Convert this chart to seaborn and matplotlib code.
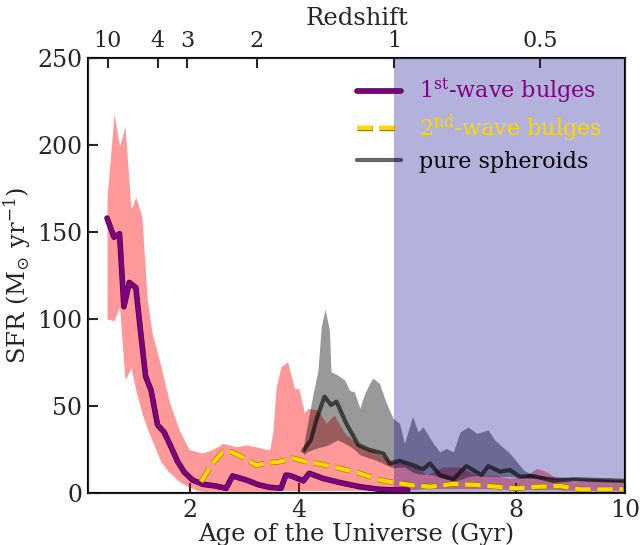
import numpy as np
import pandas as pd
import matplotlib
matplotlib.use("Agg")
import matplotlib.pyplot as plt
import matplotlib.patheffects as pe
import seaborn as sns

# 1st-wave bulges: median SFR and band
age1 = [0.47, 0.60, 0.70, 0.78, 0.88, 1.00, 1.09, 1.18, 1.28, 1.40, 1.52, 1.64, 1.77, 1.89, 2.04, 2.23,
        2.47, 2.66, 2.78, 3.03, 3.27, 3.46, 3.67, 3.76, 3.84, 3.92, 4.08, 4.19, 4.44, 4.75, 5.12, 5.48,
        5.85, 6.00]
sfr1 = [158, 147, 149, 107, 121, 118, 92, 67, 59, 39, 35, 27, 18, 12, 7.5, 5,
        4, 2.7, 9.8, 7.5, 4.6, 3.3, 2.7, 10.3, 10, 9, 7, 11.3, 8.4, 6, 3.6, 2.1,
        1.7, 1.7]
band1_age = [0.47, 0.60, 0.70, 0.80, 0.91, 1.00, 1.11, 1.21, 1.30, 1.46, 1.61, 1.80, 1.98, 2.10]
band1_hi = [170, 218, 199, 211, 163, 170, 159, 111, 92, 73, 53, 36, 25, 24]
band1_lo = [100, 99, 107, 65, 72, 59, 46, 37, 30, 18, 12, 6.5, 3.4, 2]

# 2nd-wave bulges
age2 = [2.20, 2.41, 2.60, 2.75, 3.00, 3.21, 3.46, 3.64, 3.89, 4.01, 4.13, 4.38, 4.75, 5.12, 5.48, 5.67,
        6.04, 6.41, 6.84, 7.27, 7.64, 8.00, 8.37, 8.80, 9.17, 9.96]
sfr2 = [6.5, 17, 23.7, 23.7, 20, 16, 17.4, 18, 20, 19, 18, 16.7, 14.2, 11.3, 7.5, 6.5,
        4.6, 3.6, 5.2, 4.6, 3.6, 2.7, 3.6, 4, 2.1, 2.1]
band2_age = [2.10, 2.23, 2.41, 2.60, 2.84, 3.03, 3.21, 3.46, 3.52, 3.58, 3.67, 3.79, 3.92, 4.00, 4.10,
             4.16, 4.35, 4.50, 4.65, 4.84, 5.15, 5.45, 5.70, 5.94, 6.13, 6.35, 6.65, 6.96, 7.27, 7.57,
             7.88, 8.19, 8.37, 8.55, 8.74, 9.05, 9.54, 10.0]
band2_hi = [24, 23, 25, 28.5, 26.6, 27.6, 26.6, 24.7, 35, 61, 72.6, 75.5, 60, 60, 46,
            48.7, 47.7, 40, 44.8, 34.3, 26.6, 22.8, 18, 17, 15, 10.3, 15, 15, 10.3, 10.3,
            8.4, 10.3, 14.2, 12.3, 8.4, 6.5, 7.5, 7.5]
band2_lo = [1.5, 1, 1, 1, 1, 1, 1, 1, 1, 1, 1.5, 1.5, 1.5, 1.5, 1.5,
            1.5, 1.5, 1.5, 1.5, 1.5, 1.5, 1.5, 1.5, 2, 2, 2.5, 2.5, 2.5, 2.5, 2.5,
            2, 2, 2, 2, 2, 1.5, 1.5, 1.5]

# pure spheroids
age3 = [4.08, 4.22, 4.32, 4.47, 4.59, 4.69, 4.87, 5.09, 5.30, 5.55, 5.67, 5.85, 6.10, 6.28, 6.41, 6.59,
        6.84, 7.08, 7.36, 7.48, 7.70, 7.88, 8.06, 8.31, 8.68, 9.05, 9.97]
sfr3 = [24.3, 30.5, 42, 55.4, 50.6, 52.5, 40, 27.6, 24.7, 22.8, 17, 18.5, 16, 13.6, 17, 10.3,
        7.9, 15.5, 10.3, 15.5, 12.3, 13.2, 9.4, 9.8, 7, 7.9, 7]
band3_age = [4.08, 4.17, 4.26, 4.35, 4.41, 4.48, 4.56, 4.59, 4.71, 4.84, 4.93, 5.02, 5.12, 5.21, 5.30,
             5.36, 5.48, 5.61, 5.73, 5.85, 5.94, 6.09, 6.19, 6.28, 6.47, 6.59, 6.71, 6.84, 6.96, 7.11,
             7.27, 7.48, 7.60, 7.88, 8.13, 8.31, 8.92, 9.97]
band3_hi = [26.6, 42, 57, 70.7, 95.6, 105.6, 93.7, 69.7, 67.8, 65, 59, 58, 48.7, 57.3, 63,
            66, 63, 51.5, 43, 40, 28.5, 44, 35, 38, 28.5, 23.7, 25.6, 23.7, 35, 38,
            34.3, 36.2, 30.5, 22.8, 13.2, 10.3, 9, 7.5]
band3_lo = [22, 24, 25, 26, 26.5, 27, 28, 28.5, 30.5, 28.5, 27, 25, 22, 21, 20,
            19.5, 18, 16, 14.5, 14.8, 15, 12, 11, 10.8, 10.3, 9, 8, 7, 7.5, 9.5,
            10, 9.7, 9.5, 9.4, 9, 8.4, 7.5, 6.5]

# redshift ticks on the top axis (age in Gyr)
z_age = [0.48, 1.40, 1.95, 3.22, 5.75, 8.44]
z_labels = ["10", "4", "3", "2", "1", "0.5"]
z1_age = 5.75

sns.set_style("ticks")
plt.rcParams["font.family"] = ["DejaVu Serif"]
plt.rcParams["mathtext.fontset"] = "dejavuserif"

fig = plt.figure(figsize=(6.4, 5.45), dpi=100)
ax = fig.add_axes([0.1375, 0.0954, 0.8393, 0.7982])

# bands
ax.fill_between(band1_age, band1_lo, band1_hi, color="red", alpha=0.4, lw=0, zorder=1)
ax.fill_between(band2_age, band2_lo, band2_hi, color="red", alpha=0.4, lw=0, zorder=1)
ax.fill_between(band3_age, band3_lo, band3_hi, color="black", alpha=0.4, lw=0, zorder=1.2)
ax.axvspan(z1_age, 10, color="darkblue", alpha=0.3, lw=0, zorder=1.5)

sns.lineplot(x=age1, y=sfr1, ax=ax, color="purple", lw=3.0, label="1$^{\\rm st}$-wave bulges",
             zorder=3, path_effects=[pe.Stroke(linewidth=4.0, foreground="#3a003a"), pe.Normal()])
sns.lineplot(x=age2, y=sfr2, ax=ax, color="gold", lw=3, linestyle="--", label="2$^{\\rm nd}$-wave bulges",
             zorder=3, path_effects=[pe.Stroke(linewidth=3.8, foreground="#8a7400"), pe.Normal()])
sns.lineplot(x=age3, y=sfr3, ax=ax, color="black", alpha=0.6, lw=3, label="pure spheroids", zorder=2.5)

ax.set_xlim(0.12, 10)
ax.set_ylim(0, 250)
ax.set_xticks([2, 4, 6, 8, 10])
ax.set_yticks([0, 50, 100, 150, 200, 250])
ax.set_xlabel("Age of the Universe (Gyr)", fontsize=17.5, labelpad=1)
ax.set_ylabel("SFR (M$_{\\odot}$ yr$^{-1}$)", fontsize=17.5, labelpad=3)
ax.tick_params(direction="in", length=7, width=1.5, labelsize=17, pad=4)
for s in ax.spines.values():
    s.set_linewidth(1.5)
    s.set_color("black")

leg = ax.legend(loc="upper left", bbox_to_anchor=(0.463, 1.003), frameon=False, fontsize=16,
                handlelength=2.0, labelspacing=0.3, handletextpad=0.8)
for txt, c in zip(leg.get_texts(), ["purple", "gold", "black"]):
    txt.set_color(c)

ax2 = ax.twiny()
ax2.set_xlim(ax.get_xlim())
ax2.set_xticks(z_age)
ax2.set_xticklabels(z_labels)
ax2.set_xlabel("Redshift", fontsize=17.5, labelpad=4)
ax2.tick_params(direction="in", length=7, width=1.5, labelsize=16, pad=4)

fig.savefig("out.png", dpi=100)
